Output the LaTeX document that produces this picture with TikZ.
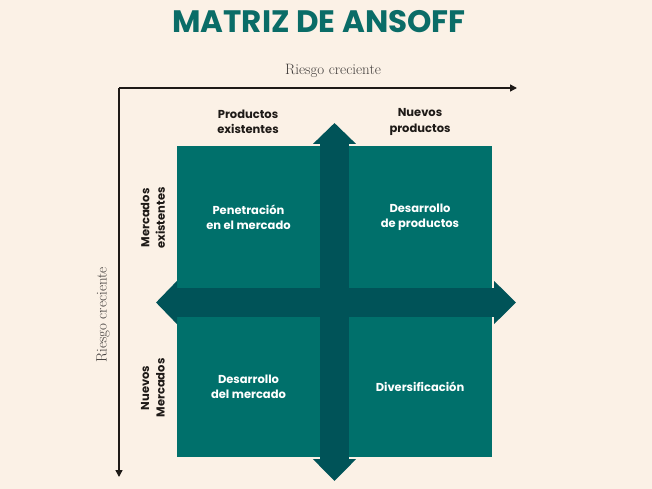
\documentclass[tikz,border=0pt]{standalone}
\usepackage{fontspec}
\setsansfont{Poppins}
\usetikzlibrary{arrows.meta}

\definecolor{bgcream}{HTML}{FBF1E6}
\definecolor{boxteal}{HTML}{00706B}
\definecolor{bandteal}{HTML}{005358}
\definecolor{titleteal}{HTML}{0A6C67}
\definecolor{axisdark}{HTML}{1E1A17}

\tikzset{
  quad/.style={fill=boxteal, text=white, font=\sffamily\bfseries\fontsize{11.5}{15}\selectfont,
    align=center, inner sep=0pt, minimum width=143pt},
  band/.style={bandteal, line width=29pt, {Triangle[width=42pt,length=21pt]}-{Triangle[width=42pt,length=22pt]}},
  axis/.style={axisdark, line width=1.4pt, -{Triangle[width=7pt,length=7pt]}},
  head/.style={text=axisdark, font=\sffamily\bfseries\fontsize{11.5}{15.5}\selectfont, align=center},
  risk/.style={text=axisdark!85, font=\rmfamily\fontsize{15}{17}\selectfont}
}

\begin{document}
\begin{tikzpicture}[x=1pt,y=-1pt]
        \fill[bgcream] (0,0) rectangle (652,489);
        \useasboundingbox (0,0) rectangle (652,489);

        % Title
        \node[text=titleteal, font=\sffamily\bfseries\fontsize{31}{34}\selectfont] (Title) at (319,22) {MATRIZ DE ANSOFF};

        % Axes
        \coordinate (Origin) at (119,88);
        \coordinate (XEnd) at (517,88);
        \coordinate (YEnd) at (119,477);
        \draw[axis] (Origin) -- (XEnd);
        \draw[axis] (Origin) -- (YEnd);
        \node[risk] (RiskX) at (333,71) {Riesgo creciente};
        \node[risk, rotate=90] (RiskY) at (103,315) {Riesgo creciente};

        % Quadrants
        \node[quad, minimum height=142pt] (Penetracion) at (248.5,217) {Penetración\\en el mercado};
        \node[quad, minimum height=142pt] (DesProductos) at (420,217) {Desarrollo\\de productos};
        \node[quad, minimum height=140pt] (DesMercado) at (248.5,387) {Desarrollo\\del mercado};
        \node[quad, minimum height=140pt] (Diversificacion) at (420,387) {Diversificación};

        % Cross
        \coordinate (BandW) at (156,302.5);
        \coordinate (BandE) at (516,302.5);
        \coordinate (BandN) at (334.5,123);
        \coordinate (BandS) at (334.5,481);
        \draw[band] (BandW) -- (BandE);
        \draw[band] (BandN) -- (BandS);

        % Headers
        \node[head] (ProdExist) at (248,122) {Productos\\existentes};
        \node[head] (ProdNuevo) at (420,122) {Nuevos\\productos};
        \node[head, rotate=90] (MercExist) at (153,218) {Mercados\\existentes};
        \node[head, rotate=90] (MercNuevo) at (153,388) {Nuevos\\Mercados};
    \end{tikzpicture}
\end{document}
